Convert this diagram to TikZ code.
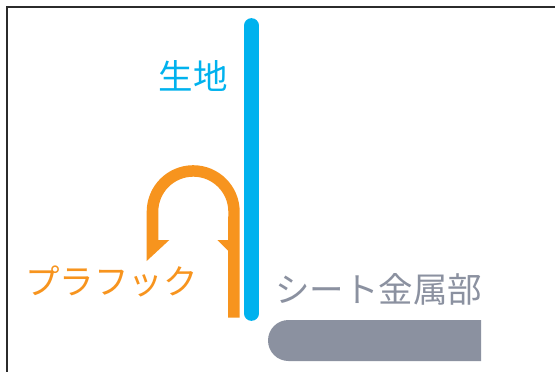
\documentclass[tikz,border=0pt]{standalone}
\usepackage{fontspec}
\newfontfamily\jpfont{Noto Sans CJK JP}
\definecolor{fabric}{HTML}{00B2EE}
\definecolor{hook}{HTML}{F7941E}
\definecolor{metal}{HTML}{8B91A0}
\definecolor{frameline}{HTML}{2B2B2B}
\tikzset{
  lbl/.style={inner sep=0pt,font=\jpfont\fontsize{34.5}{36}\selectfont},
}
\begin{document}
\begin{tikzpicture}[x=1pt,y=-1pt]
\useasboundingbox (0,0) rectangle (555,372);
\fill[white] (0,0) rectangle (555,372);
% frame
\draw[frameline,line width=2pt] (6.5,372) -- (6.5,6.5) -- (555,6.5);
% fabric
\draw[fabric,line width=14.7pt,line cap=round] (251.4,25.5) -- (251.4,313.5);
% plastic hook
\fill[hook] (228,317.7) -- (239.7,317.7) -- (239.7,211.7)
  arc[start angle=0,end angle=-180,radius=46.5]
  -- (146.7,261) -- (169.3,240) -- (158.3,240) -- (158.3,211.7)
  arc[start angle=180,end angle=360,radius=35]
  -- (228,240) -- (217.3,240) -- (228,250.7) -- cycle;
% sheet metal
\fill[metal] (481,320) -- (288.5,320) arc[start angle=-90,end angle=-270,radius=20.5] -- (481,361) -- cycle;
% labels
\node[lbl,text=fabric] (fabriclabel) at (193,76) {生地};
\node[lbl,text=hook] (hooklabel) at (111.5,281.5) {プラフック};
\node[lbl,text=metal] (metallabel) at (378.5,289.5) {シート金属部};
\end{tikzpicture}
\end{document}
